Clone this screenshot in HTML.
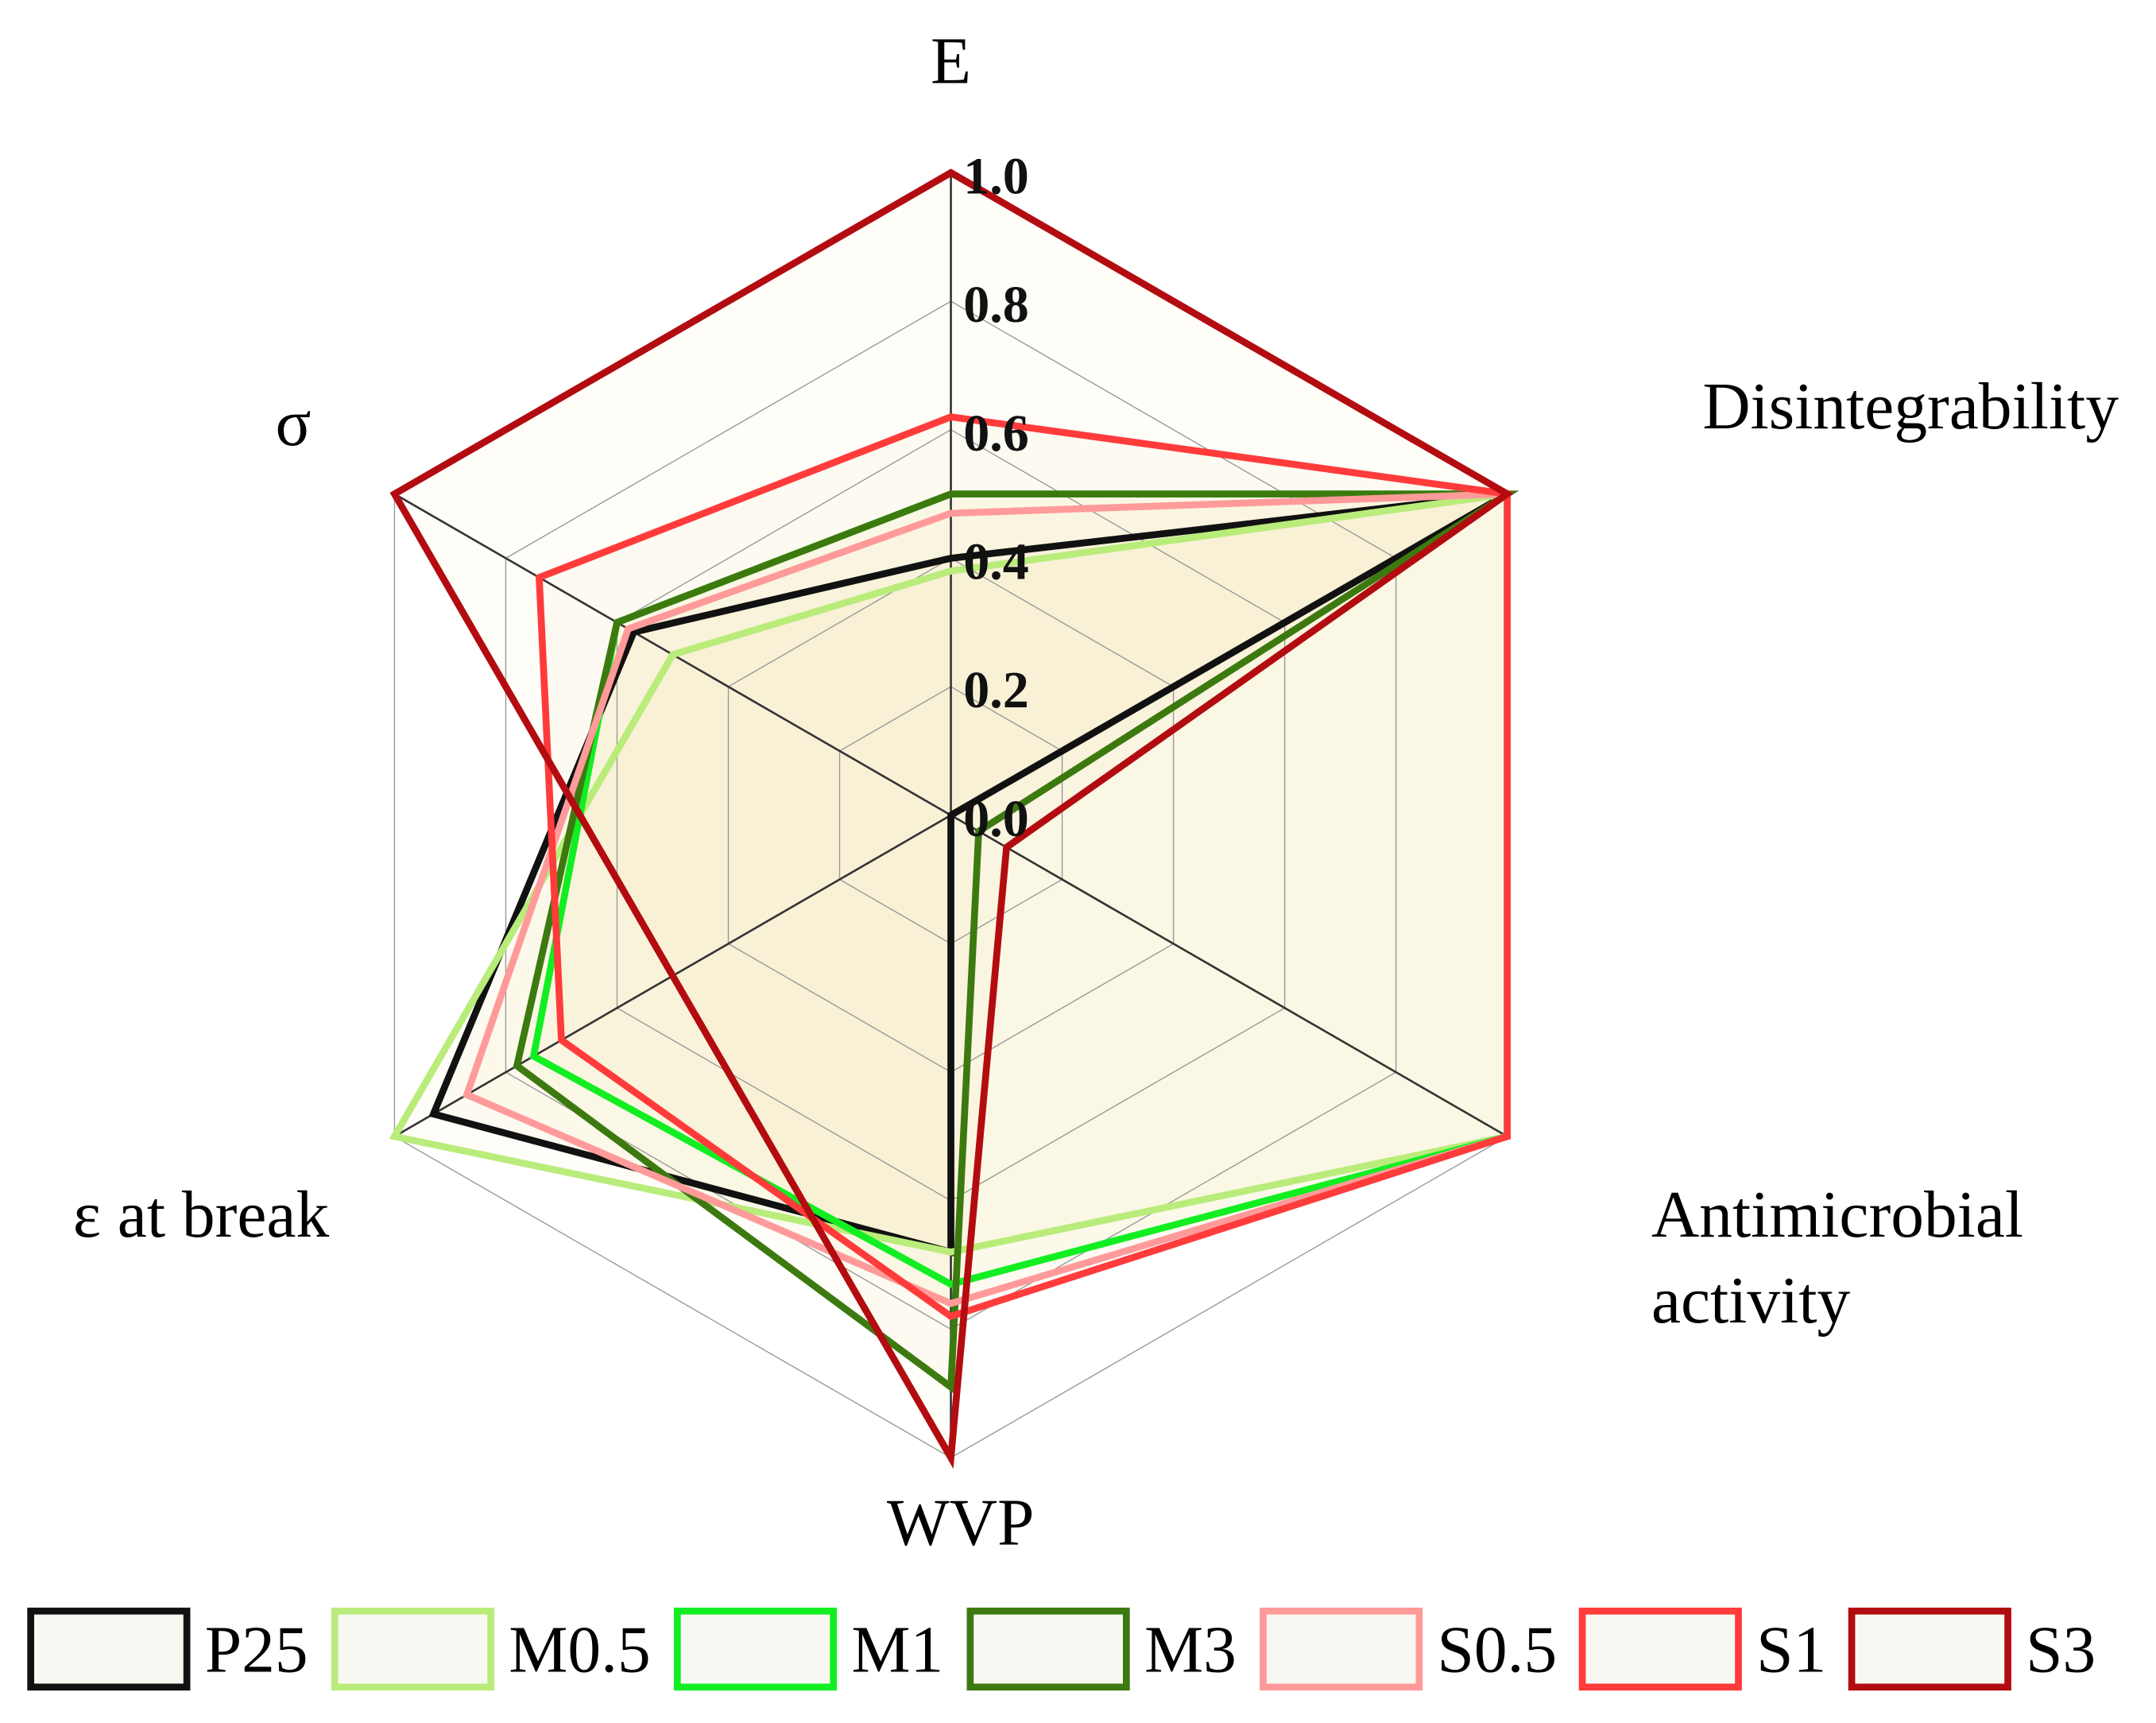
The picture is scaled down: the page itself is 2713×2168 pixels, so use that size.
<!DOCTYPE html>
<html><head><meta charset="utf-8"><style>
html,body{margin:0;padding:0;background:#fff;}
svg{display:block;}
text{font-family:"Liberation Serif",serif;}
</style></head><body>
<svg id="chart" width="2713" height="2168" viewBox="0 0 1560 1247" xmlns="http://www.w3.org/2000/svg">
<g id="grid"></g>
<g id="series"></g>
<g id="labels"></g>
<g id="legend"></g>
</svg>
<script>
const axes = ["E","Disintegrability","Antimicrobial activity","WVP","ε at break","σ"];
const ticks = ["0.0","0.2","0.4","0.6","0.8","1.0"];
const seriesNames = ["P25","M0.5","M1","M3","S0.5","S1","S3"];
const seriesColors = ["#111111","#b9ec7a","#12ee22","#3c7a10","#ff9a9a","#ff3b3b","#b30c10"];
const vP25 = [0.40,1.0,0.0,0.68,0.93,0.57];
const vM05 = [0.38,1.0,1.0,0.68,1.0,0.50];
const vM1 = [0.50,1.0,1.0,0.73,0.75,0.60];
const vM3 = [0.50,1.0,0.05,0.89,0.78,0.60];
const vS05 = [0.47,1.0,1.0,0.76,0.87,0.58];
const vS1 = [0.62,1.0,1.0,0.78,0.70,0.74];
const vS3 = [1.0,1.0,0.10,1.0,0.50,1.0];
const allValues = [vP25,vM05,vM1,vM3,vS05,vS1,vS3];

const NS="http://www.w3.org/2000/svg";
const cx=688, cy=590, R=465;
function pt(i,v){const a=-Math.PI/2+i*Math.PI/3;return [cx+R*v*Math.cos(a),cy+R*v*Math.sin(a)];}
function mk(tag,attrs,parent){const e=document.createElementNS(NS,tag);for(const k in attrs)e.setAttribute(k,attrs[k]);parent.appendChild(e);return e;}
const grid=document.getElementById('grid');
const sg=document.getElementById('series');
allValues.forEach((vals,s)=>{const p=mk('polygon',{points:vals.map((v,i)=>pt(i,v).join(',')).join(' '),fill:'rgba(240,228,160,0.075)',stroke:'none'},grid);
 
 
});
ticks.forEach((t,k)=>{const v=+t;if(v<=0)return;
 const p=mk('polygon',{points:axes.map((a,i)=>pt(i,v).join(',')).join(' '),fill:'none',stroke:'#999',"stroke-width":0.8},grid);
 
 
});
axes.forEach((a,i)=>{const p=pt(i,1);const l=mk('line',{x1:cx,y1:cy,x2:p[0],y2:p[1],stroke:'#333',"stroke-width":1.5},grid);
 
 
});
allValues.forEach((vals,s)=>{const p=mk('polygon',{points:vals.map((v,i)=>pt(i,v).join(',')).join(' '),fill:'none',stroke:seriesColors[s],"stroke-width":5,"stroke-linejoin":"miter"},sg);
 
 
});
const lg=document.getElementById('labels');
ticks.forEach(t=>{const v=+t;const e=mk('text',{x:cx+9,y:cy-R*v+15,"font-size":38,"font-weight":"bold",fill:'#111'},lg);e.textContent=t;
 
 
});
const axPos=[[688,60,'middle'],[1232,310,'start'],[1195,895,'start'],[695,1118,'middle'],[238,895,'end'],[212,322,'middle']];
axes.forEach((a,i)=>{const [x,y,an]=axPos[i];const e=mk('text',{x:x,y:y,"font-size":48,"text-anchor":an,fill:'#000'},lg);
 if(i===2){e.textContent='Antimicrobial';const e2=mk('text',{x:x,y:y+62,"font-size":48,fill:'#000'},lg);e2.textContent='activity';
  
  }
 else e.textContent=a;
 
 
});
const leg=document.getElementById('legend');
const legX=[22,242,490,702,914,1145,1340];
seriesNames.forEach((n,s)=>{const x=legX[s];
 const r=mk('rect',{x:x,y:1166,width:113,height:55,fill:'#f8f8f2',stroke:seriesColors[s],"stroke-width":5},leg);
 
 
 const t=mk('text',{x:x+126,y:1210,"font-size":48,fill:'#000'},leg);t.textContent=n;
 
 
});
</script>
</body></html>
